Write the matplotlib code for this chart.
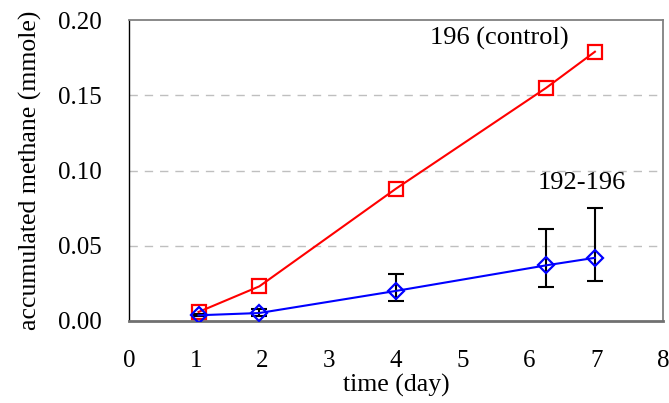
import matplotlib
matplotlib.use("Agg")
import matplotlib.pyplot as plt

# accumulated methane over time, control vs. 192-196
control_days = [1.04, 1.95, 4.0, 6.25, 6.98]
control_ch4 = [0.006, 0.023, 0.088, 0.155, 0.179]

treat_days = [1.04, 1.95, 4.0, 6.25, 6.98]
treat_ch4 = [0.0038, 0.0053, 0.020, 0.037, 0.042]
treat_err_low = [0.0006, 0.002, 0.0067, 0.0144, 0.0156]
treat_err_high = [0.0006, 0.0025, 0.0115, 0.024, 0.0334]

x_ticks = [0, 1, 2, 3, 4, 5, 6, 7, 8]
y_ticks = [0.00, 0.05, 0.10, 0.15, 0.20]

plt.rcParams["font.family"] = "Liberation Serif"

fig = plt.figure(figsize=(6.69, 4.03), dpi=100)
ax = fig.add_axes([0.193, 0.2035, 0.798, 0.7465])

for y in y_ticks[1:-1]:
    ax.axhline(y, color="#bfbfbf", lw=1, ls=(0, (6, 5)), zorder=0)

ax.errorbar(treat_days, treat_ch4, yerr=[treat_err_low, treat_err_high],
            fmt="none", ecolor="black", elinewidth=1.5, capsize=5.5, capthick=1.5, zorder=2)
ax.plot(control_days, control_ch4, color="red", lw=1.5, marker="s", ms=10.5,
        mfc="none", mec="red", mew=1.6, zorder=3)
ax.plot(treat_days, treat_ch4, color="blue", lw=1.5, marker="D", ms=8,
        mfc="none", mec="blue", mew=1.6, zorder=3)

ax.text(5.54, 0.188, "196 (control)", fontsize=19, ha="center", va="center")
ax.text(6.79, 0.0917, "192-196", fontsize=19, ha="center", va="center")

ax.set_xlim(0, 8)
ax.set_ylim(0, 0.20)
ax.set_xticks(x_ticks)
ax.set_yticks(y_ticks)
ax.set_yticklabels([f"{v:.2f}" for v in y_ticks])
ax.tick_params(length=0, labelsize=18)
ax.tick_params(axis="y", pad=20)
ax.tick_params(axis="x", pad=21)

ax.set_xlabel("time (day)", fontsize=18.5, labelpad=1)
ax.set_ylabel("accumulated methane (mmole)", fontsize=18.5, labelpad=11)

ax.spines["left"].set_color("black")
ax.spines["left"].set_linewidth(1)
ax.spines["bottom"].set_color("#707070")
ax.spines["bottom"].set_linewidth(2)
for side in ("top", "right"):
    ax.spines[side].set_color("#808080")
    ax.spines[side].set_linewidth(1.3)

fig.savefig("out.png", dpi=100)
